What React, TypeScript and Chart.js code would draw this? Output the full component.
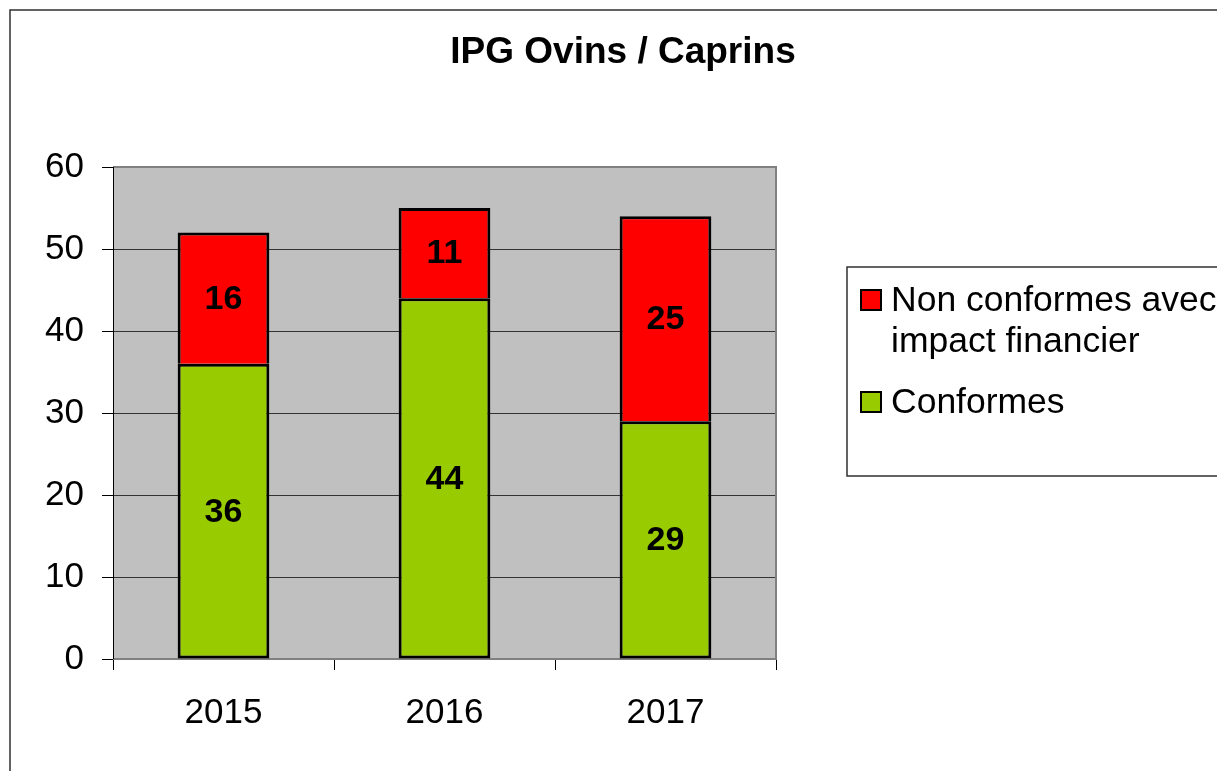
import React, { useEffect, useRef } from "react";
import { Chart, registerables } from "chart.js";

Chart.register(...registerables);

const TITLE = "IPG Ovins / Caprins";
const YEARS = ["2015", "2016", "2017"];
const CONFORMES = [36, 44, 29];
const NON_CONFORMES = [16, 11, 25];
const SERIES_NAMES = ["Conformes", "Non conformes avec impact financier"];
const SERIES_COLORS = ["#99CC00", "#FF0000"];
const Y_MIN = 0;
const Y_MAX = 60;
const Y_STEP = 10;

const FONT = "'Liberation Sans', Arial, sans-serif";

const decorPlugin = {
  id: "decor",
  beforeDraw(chart: any) {
    const { ctx, chartArea: a } = chart;
    ctx.save();
    ctx.fillStyle = "#ffffff";
    ctx.fillRect(0, 0, chart.width, chart.height);
    ctx.fillStyle = "#C0C0C0";
    ctx.fillRect(a.left, a.top, a.right - a.left, a.bottom - a.top);
    // outer chart frame
    ctx.strokeStyle = "#303030";
    ctx.lineWidth = 1.5;
    ctx.strokeRect(10, 10, chart.width + 100, chart.height + 100);
    // title
    ctx.fillStyle = "#000";
    ctx.font = `bold 37px ${FONT}`;
    ctx.textAlign = "center";
    ctx.textBaseline = "middle";
    ctx.fillText(TITLE, 623, 53);
    ctx.restore();
  },
  beforeDatasetsDraw(chart: any) {
    const { ctx, chartArea: a } = chart;
    ctx.save();
    ctx.strokeStyle = "#808080";
    ctx.lineWidth = 2;
    ctx.beginPath();
    ctx.moveTo(a.left, a.top);
    ctx.lineTo(a.right, a.top);
    ctx.lineTo(a.right, a.bottom);
    ctx.lineTo(a.left, a.bottom);
    ctx.stroke();
    ctx.strokeStyle = "#000";
    ctx.lineWidth = 1;
    ctx.beginPath();
    ctx.moveTo(a.left + 0.5, a.top);
    ctx.lineTo(a.left + 0.5, a.bottom);
    ctx.stroke();
    ctx.restore();
  },
  afterDatasetsDraw(chart: any) {
    const { ctx } = chart;
    ctx.save();
    ctx.fillStyle = "#000";
    ctx.font = `bold 34px ${FONT}`;
    ctx.textAlign = "center";
    ctx.textBaseline = "middle";
    chart.data.datasets.forEach((ds: any, di: number) => {
      const meta = chart.getDatasetMeta(di);
      meta.data.forEach((el: any, i: number) => {
        const v = ds.data[i];
        ctx.fillText(String(v), el.x, (el.y + el.base) / 2 + 1);
      });
    });
    ctx.restore();
  },
  afterDraw(chart: any) {
    const { ctx } = chart;
    ctx.save();
    // legend box
    ctx.strokeStyle = "#303030";
    ctx.lineWidth = 1.5;
    ctx.strokeRect(847, 267, 500, 209);
    ctx.font = `35.5px ${FONT}`;
    ctx.textAlign = "left";
    ctx.textBaseline = "alphabetic";
    const items = chart.data.datasets.slice().reverse();
    let baseline = 311;
    items.forEach((ds: any) => {
      const words = String(ds.label).split(" ");
      const lines: string[] = [];
      let cur = "";
      words.forEach((w) => {
        const t = cur ? cur + " " + w : w;
        if (ctx.measureText(t).width > 345 && cur) {
          lines.push(cur);
          cur = w;
        } else cur = t;
      });
      if (cur) lines.push(cur);
      ctx.fillStyle = ds.backgroundColor;
      ctx.fillRect(861, baseline - 21, 20, 20);
      ctx.strokeStyle = "#000";
      ctx.lineWidth = 2;
      ctx.strokeRect(861, baseline - 21, 20, 20);
      ctx.fillStyle = "#000";
      lines.forEach((ln, li) => {
        ctx.fillText(ln, 891, baseline + li * 41);
      });
      baseline += (lines.length - 1) * 41 + 61;
    });
    ctx.restore();
  },
};

export default function App() {
  const ref = useRef<HTMLCanvasElement | null>(null);
  useEffect(() => {
    if (!ref.current) return;
    const chart = new Chart(ref.current, {
      type: "bar",
      data: {
        labels: YEARS,
        datasets: [
          {
            label: SERIES_NAMES[0],
            data: CONFORMES,
            backgroundColor: SERIES_COLORS[0],
            borderColor: "#000",
            borderWidth: 3,
            borderSkipped: false,
            barPercentage: 0.415,
            categoryPercentage: 1,
          },
          {
            label: SERIES_NAMES[1],
            data: NON_CONFORMES,
            backgroundColor: SERIES_COLORS[1],
            borderColor: "#000",
            borderWidth: 3,
            borderSkipped: "start",
            barPercentage: 0.415,
            categoryPercentage: 1,
          },
        ],
      },
      options: {
        responsive: false,
        animation: false,
        devicePixelRatio: 1,
        layout: { padding: { left: 0, right: 441, top: 167, bottom: 0 } },
        plugins: {
          legend: { display: false },
          title: { display: false },
          tooltip: { enabled: false },
        },
        scales: {
          x: {
            stacked: true,
            offset: true,
            border: { display: false },
            grid: {
              display: true,
              offset: true,
              drawOnChartArea: false,
              drawTicks: true,
              tickLength: 11,
              color: "#000",
              tickColor: "#000",
            },
            ticks: {
              color: "#000",
              font: { family: FONT, size: 35 },
              padding: 22,
            },
            afterFit(scale: any) {
              scale.height = 112;
            },
          },
          y: {
            stacked: true,
            min: Y_MIN,
            max: Y_MAX,
            border: { display: false },
            grid: {
              color: (c: any) =>
                c.tick && (c.tick.value === Y_MIN || c.tick.value === Y_MAX)
                  ? "rgba(0,0,0,0)"
                  : "#333333",
              tickColor: "#000",
              tickLength: 11,
              lineWidth: 1,
            },
            ticks: {
              stepSize: Y_STEP,
              color: "#000",
              font: { family: FONT, size: 35 },
              padding: 18,
            },
            afterFit(scale: any) {
              scale.width = 113;
            },
          },
        },
      },
      plugins: [decorPlugin],
    } as any);
    return () => chart.destroy();
  }, []);
  return (
    <div style={{ position: "fixed", left: 0, top: 0, width: 1217, height: 771, background: "#fff" }}>
      <canvas ref={ref} width={1217} height={771} style={{ display: "block" }} />
    </div>
  );
}
